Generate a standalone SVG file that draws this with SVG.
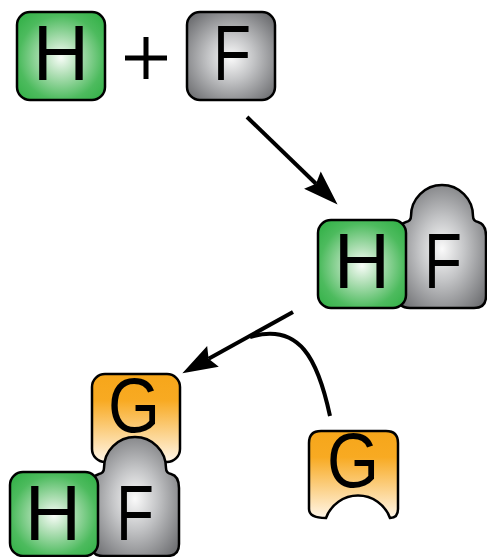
<svg xmlns="http://www.w3.org/2000/svg" width="487" height="557" viewBox="0 0 487 557">
<defs>
<radialGradient id="gGreen" cx="50%" cy="52%" r="64%">
<stop offset="0" stop-color="#F7FCF7"/>
<stop offset="0.3" stop-color="#B3E0B8"/>
<stop offset="0.75" stop-color="#4DBB5E"/>
<stop offset="1" stop-color="#36B24A"/>
</radialGradient>
<radialGradient id="gGray" cx="50%" cy="52%" r="64%">
<stop offset="0" stop-color="#FAFAFA"/>
<stop offset="0.4" stop-color="#C4C5C7"/>
<stop offset="1" stop-color="#6D6E71"/>
</radialGradient>
<linearGradient id="gOrange" x1="0" y1="0" x2="0" y2="1">
<stop offset="0" stop-color="#F6A61A"/>
<stop offset="0.3" stop-color="#F8AA22"/>
<stop offset="1" stop-color="#FFF6E8"/>
</linearGradient>
<marker id="ah" markerUnits="userSpaceOnUse" markerWidth="42" markerHeight="30" viewBox="-2 -15 42 30" refX="5" refY="0" orient="auto">
<path d="M0,-12 L35,0 L0,12 L5,0 Z" fill="#000"/>
</marker>
</defs>
<style>
.box{stroke:#000;stroke-width:2.5;}
.green{fill:url(#gGreen);}
.gray{fill:url(#gGray);}
.orange{fill:url(#gOrange);}
.lbl{font-family:"Liberation Sans",Arial,sans-serif;font-size:78px;fill:#000;text-anchor:middle;}
.conn{fill:none;stroke:#000;stroke-width:4;}
</style>

<g id="H-top">
<rect class="box green" x="17" y="12" width="88" height="88" rx="13"/>
<text class="lbl" x="61" y="80">H</text>
</g>
<g id="plus">
<path d="M125,58 H167 M146,37 V79" stroke="#000" stroke-width="5" fill="none"/>
</g>
<g id="F-top">
<rect class="box gray" x="187" y="12" width="88" height="88" rx="13"/>
<text class="lbl" x="232" y="80" textLength="38" lengthAdjust="spacingAndGlyphs">F</text>
</g>

<g id="HF-middle">
<path class="box gray" d="M398,296 L398,236 Q398,224 406,222 Q411,221 411,216 A31,31 0 0 1 473,216 Q473,221 478,222 Q486,224 486,236 L486,296 Q486,308 474,308 L410,308 Q398,308 398,296 Z"/>
<rect class="box green" x="318" y="220" width="88" height="88" rx="13"/>
<text class="lbl" x="362" y="288">H</text>
<text class="lbl" x="443" y="288" textLength="38" lengthAdjust="spacingAndGlyphs">F</text>
</g>

<g id="GHF-bottom">
<rect class="box orange" x="92" y="374" width="88" height="88" rx="13"/>
<text class="lbl" x="134" y="432" textLength="52" lengthAdjust="spacingAndGlyphs">G</text>
<path class="box gray" d="M91,544 L91,488 Q91,476 99,474 Q104,473 104,468 A31,31 0 0 1 166,468 Q166,473 171,474 Q179,476 179,488 L179,544 Q179,556 167,556 L103,556 Q91,556 91,544 Z"/>
<rect class="box green" x="10" y="472" width="88" height="84" rx="13"/>
<text class="lbl" x="53" y="540">H</text>
<text class="lbl" x="135" y="540" textLength="38" lengthAdjust="spacingAndGlyphs">F</text>
</g>

<g id="G-free">
<path class="box orange" d="M321,431 L386,431 Q398,431 398,443 L398,509 Q398,518 390,518 A34,34 0 0 0 326,518 Q309,518 309,509 L309,443 Q309,431 321,431 Z"/>
<text class="lbl" x="353" y="487" textLength="52" lengthAdjust="spacingAndGlyphs">G</text>
</g>

<g id="connectors">
<path class="conn" d="M247,117 L316,183.7" marker-end="url(#ah)"/>
<path class="conn" d="M293,312 L208.6,358.8" marker-end="url(#ah)"/>
<path class="conn" d="M330,416 C318,360 300,322 250,337"/>
</g>
</svg>
